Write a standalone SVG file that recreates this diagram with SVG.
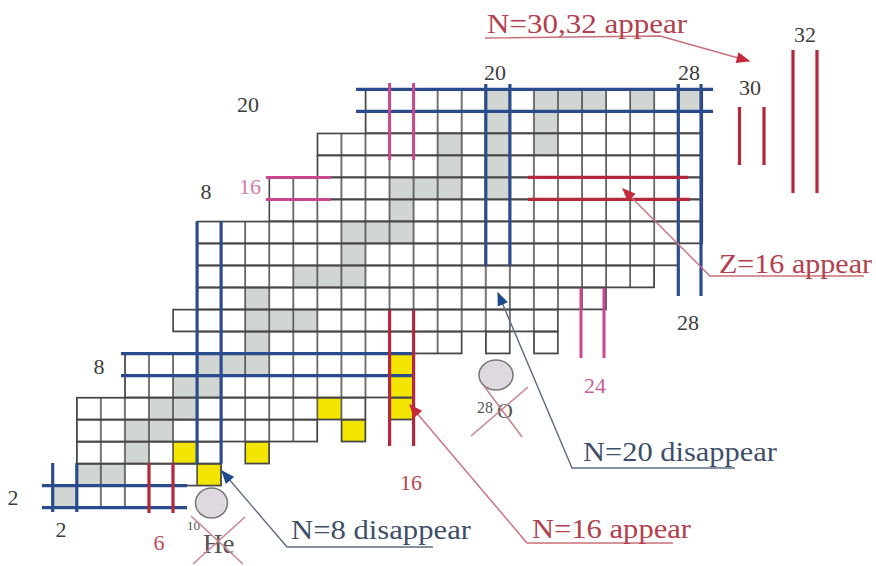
<svg xmlns="http://www.w3.org/2000/svg" width="876" height="566" viewBox="0 0 876 566">
<defs>
<pattern id="grid" patternUnits="userSpaceOnUse" x="2.6" y="527.74" width="24.06" height="22.02">
<path d="M2,0 V22.02 M0,2 H24.06" stroke="#474747" stroke-width="1.5" fill="none"/>
</pattern>
<marker id="arB" viewBox="0 0 10 8" refX="9" refY="4" markerWidth="15" markerHeight="11" markerUnits="userSpaceOnUse" orient="auto">
<path d="M0,0 L10,4 L0,8 z" fill="#1f4a8c"/>
</marker>
<marker id="arR" viewBox="0 0 10 8" refX="9" refY="4" markerWidth="15" markerHeight="11" markerUnits="userSpaceOnUse" orient="auto">
<path d="M0,0 L10,4 L0,8 z" fill="#c42a3c"/>
</marker>
</defs>
<style>
.row{fill:url(#grid);stroke:#474747;stroke-width:1.5}
.g{fill:#d2d6d3}
.y{fill:#f3e500}
.blue{stroke:#2a4c8c;stroke-width:3.2;fill:none}
.red{stroke:#b3283a;stroke-width:3.2;fill:none}
.pink{stroke:#c9478f;stroke-width:3;fill:none}
.ldB{stroke:#5c6e84;stroke-width:1.4;fill:none}
.ldR{stroke:#c8707a;stroke-width:1.4;fill:none}
.cross{stroke:#c98592;stroke-width:1.6;fill:none}
text{font-family:"Liberation Serif","Times New Roman",serif}
.num{font-size:22px;fill:#3c3c3c;text-anchor:middle}
.lbl{font-size:27px}
</style>
<rect width="876" height="566" fill="#ffffff"/>
<g id="cells-fill">
<rect class="g" x="52.72" y="485.70" width="24.06" height="22.02"/>
<rect class="g" x="76.78" y="463.68" width="48.12" height="22.02"/>
<rect class="g" x="124.90" y="441.66" width="24.06" height="22.02"/>
<rect class="g" x="124.90" y="419.64" width="48.12" height="22.02"/>
<rect class="g" x="148.96" y="397.62" width="48.12" height="22.02"/>
<rect class="g" x="173.02" y="375.60" width="48.12" height="22.02"/>
<rect class="g" x="197.08" y="353.58" width="72.18" height="22.02"/>
<rect class="g" x="245.20" y="287.52" width="24.06" height="66.06"/>
<rect class="g" x="269.26" y="309.54" width="48.12" height="22.02"/>
<rect class="g" x="293.32" y="265.50" width="72.18" height="22.02"/>
<rect class="g" x="341.44" y="243.48" width="24.06" height="22.02"/>
<rect class="g" x="341.44" y="221.46" width="72.18" height="22.02"/>
<rect class="g" x="389.56" y="199.44" width="24.06" height="22.02"/>
<rect class="g" x="389.56" y="177.42" width="72.18" height="22.02"/>
<rect class="g" x="437.68" y="133.38" width="24.06" height="44.04"/>
<rect class="g" x="485.80" y="89.34" width="24.06" height="110.10"/>
<rect class="g" x="533.92" y="89.34" width="24.06" height="66.06"/>
<rect class="g" x="557.98" y="89.34" width="48.12" height="22.02"/>
<rect class="g" x="630.16" y="89.34" width="24.06" height="22.02"/>
<rect class="g" x="678.28" y="89.34" width="24.06" height="22.02"/>
<rect class="y" x="197.08" y="463.68" width="24.06" height="22.02"/>
<rect class="y" x="173.02" y="441.66" width="24.06" height="22.02"/>
<rect class="y" x="245.20" y="441.66" width="24.06" height="22.02"/>
<rect class="y" x="317.38" y="397.62" width="24.06" height="22.02"/>
<rect class="y" x="341.44" y="419.64" width="24.06" height="22.02"/>
<rect class="y" x="389.56" y="353.58" width="24.06" height="66.06"/>
</g>
<g id="grid-rows">
<rect class="row" x="52.72" y="485.70" width="120.30" height="22.02"/>
<rect class="row" x="76.78" y="463.68" width="144.36" height="22.02"/>
<rect class="row" x="76.78" y="441.66" width="144.36" height="22.02"/>
<rect class="row" x="245.20" y="441.66" width="24.06" height="22.02"/>
<rect class="row" x="76.78" y="419.64" width="240.60" height="22.02"/>
<rect class="row" x="341.44" y="419.64" width="24.06" height="22.02"/>
<rect class="row" x="76.78" y="397.62" width="288.72" height="22.02"/>
<rect class="row" x="389.56" y="397.62" width="24.06" height="22.02"/>
<rect class="row" x="124.90" y="375.60" width="288.72" height="22.02"/>
<rect class="row" x="124.90" y="353.58" width="288.72" height="22.02"/>
<rect class="row" x="197.08" y="331.56" width="264.66" height="22.02"/>
<rect class="row" x="485.80" y="331.56" width="24.06" height="22.02"/>
<rect class="row" x="533.92" y="331.56" width="24.06" height="22.02"/>
<rect class="row" x="173.02" y="309.54" width="384.96" height="22.02"/>
<rect class="row" x="197.08" y="287.52" width="409.02" height="22.02"/>
<rect class="row" x="197.08" y="265.50" width="457.14" height="22.02"/>
<rect class="row" x="197.08" y="243.48" width="481.20" height="22.02"/>
<rect class="row" x="197.08" y="221.46" width="505.26" height="22.02"/>
<rect class="row" x="269.26" y="199.44" width="433.08" height="22.02"/>
<rect class="row" x="269.26" y="177.42" width="433.08" height="22.02"/>
<rect class="row" x="317.38" y="155.40" width="384.96" height="22.02"/>
<rect class="row" x="317.38" y="133.38" width="384.96" height="22.02"/>
<rect class="row" x="365.50" y="111.36" width="336.84" height="22.02"/>
<rect class="row" x="365.50" y="89.34" width="336.84" height="22.02"/>
</g>
<g id="magic-lines">
<path class="blue" d="M42,485.7 H187 M42,507.7 H187 M52.7,463 V512 M76.8,463 V512 M121,353.6 H413 M121,375.6 H413 M197.1,221.5 V463.7 M221.1,221.5 V463.7 M356,89.3 H713 M356,111.4 H713 M485.8,84 V265.5 M509.9,84 V265.5 M678.3,84 V296 M701,84 V296"/>
<path class="red" d="M149,463 V513 M173,463 V513 M389.6,310 V446 M413.6,310 V446 M528,177.4 H688 M528,199.4 H690 M739.5,107 V165 M764,107 V165 M793,50 V193 M817,50 V193"/>
<path class="pink" d="M389.6,83 V160 M413.6,83 V160 M266,177.4 H331 M266,199.4 H331 M581,288 V358 M604,288 V358"/>
</g>
<g id="numbers">
<text class="num" x="248" y="112">20</text>
<text class="num" x="206" y="199">8</text>
<text class="num" x="250" y="194" style="fill:#d27aa8">16</text>
<text class="num" x="99" y="374">8</text>
<text class="num" x="13" y="505">2</text>
<text class="num" x="61" y="537">2</text>
<text class="num" x="159" y="550" style="fill:#c04a58">6</text>
<text class="num" x="411" y="490" style="fill:#b84450">16</text>
<text class="num" x="595" y="393" style="fill:#c7609a">24</text>
<text class="num" x="688" y="330">28</text>
<text class="num" x="495" y="80">20</text>
<text class="num" x="689" y="80">28</text>
<text class="num" x="750" y="95">30</text>
<text class="num" x="805" y="42">32</text>
</g>
<g id="he10">
<ellipse cx="211.5" cy="503" rx="16" ry="15" fill="#ddd9de" stroke="#777777" stroke-width="1.5"/>
<text x="187" y="530" font-size="13" fill="#555555">10</text>
<text x="203" y="553" font-size="27" fill="#555555">He</text>
<path class="cross" d="M191,516 L243,564 M193,564 L245,517"/>
</g>
<g id="o28">
<ellipse cx="496" cy="375" rx="17" ry="15" fill="#ddd9de" stroke="#777777" stroke-width="1.5"/>
<text x="477" y="413" font-size="16" fill="#555555">28</text>
<text x="497" y="418" font-size="22" fill="#555555">O</text>
<path class="cross" d="M471,436 L528,387 M484,386 L522,437"/>
</g>
<g id="connectors">
<path class="ldB" d="M433,547 H287 L222,471" marker-end="url(#arB)"/>
<path class="ldR" d="M673,543 H527 L410,405" marker-end="url(#arR)"/>
<path class="ldB" d="M735,468 H572 L498,293" marker-end="url(#arB)"/>
<path class="ldR" d="M864,276 H710 L623,189" marker-end="url(#arR)"/>
<path class="ldR" d="M485,38 L660,36 L749,61" marker-end="url(#arR)"/>
</g>
<g id="labels">
<text class="lbl" x="487" y="33" fill="#b4404e" textLength="200" lengthAdjust="spacingAndGlyphs">N=30,32 appear</text>
<text class="lbl" x="719" y="273" fill="#b4404e" textLength="153" lengthAdjust="spacingAndGlyphs">Z=16 appear</text>
<text class="lbl" x="583" y="461" fill="#3e5068" textLength="194" lengthAdjust="spacingAndGlyphs">N=20 disappear</text>
<text class="lbl" x="532" y="538" fill="#b4404e" textLength="159" lengthAdjust="spacingAndGlyphs">N=16 appear</text>
<text class="lbl" x="291" y="539" fill="#3e5068" textLength="180" lengthAdjust="spacingAndGlyphs">N=8 disappear</text>
</g>
</svg>
